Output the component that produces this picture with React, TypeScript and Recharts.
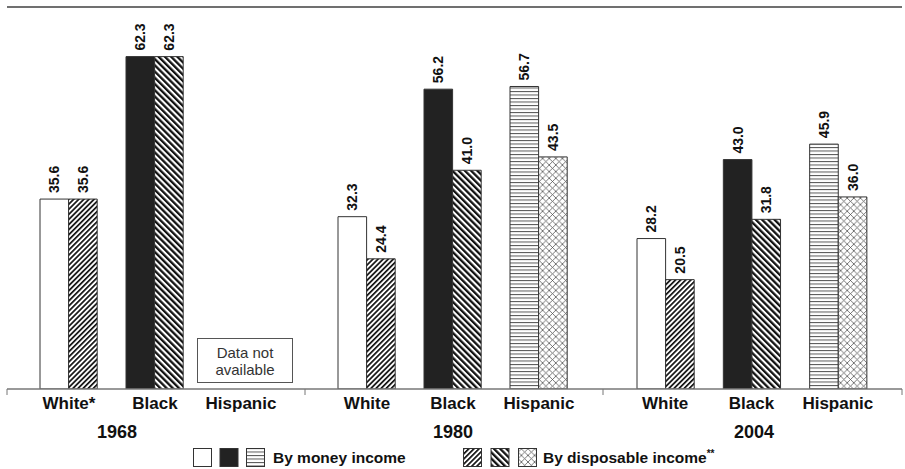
import React from 'react';
import { BarChart, Bar, XAxis, YAxis, Cell, LabelList, ReferenceLine } from 'recharts';

// ---- data ----
const YEARS = ['1968', '1980', '2004'];
const CATEGORIES = [
  ['White*', 'Black', 'Hispanic'],
  ['White', 'Black', 'Hispanic'],
  ['White', 'Black', 'Hispanic'],
];
const MONEY_INCOME: (number | null)[][] = [
  [35.6, 62.3, null],
  [32.3, 56.2, 56.7],
  [28.2, 43.0, 45.9],
];
const DISPOSABLE_INCOME: (number | null)[][] = [
  [35.6, 62.3, null],
  [24.4, 41.0, 43.5],
  [20.5, 31.8, 36.0],
];
const SERIES_NAMES = ['By money income', 'By disposable income'];
const NOT_AVAILABLE = ['Data not', 'available'];

// ---- styling / layout ----
const Y_MAX = 71.6;
const FONT = '"Liberation Sans", Arial, Helvetica, sans-serif';
const MONEY_FILLS = ['#ffffff', '#222222', 'url(#hlines)'];
const DISP_FILLS = ['url(#fwd)', 'url(#back)', 'url(#cross)'];
const CHART_LEFT = [7, 305, 603];
const CHART_W = [298, 298, 299];
const CHART_H = 419;
const YEAR_X = [117, 453, 754];

const VLabel = (props: any) => {
  const vb = props.viewBox || {};
  const x = props.x ?? vb.x;
  const y = props.y ?? vb.y;
  const width = props.width ?? vb.width;
  const value = props.value;
  if (value == null || x == null) return null;
  const cx = x + width / 2;
  const ty = y - 6;
  return (
    <text
      x={cx}
      y={ty}
      transform={`rotate(-90 ${cx} ${ty})`}
      textAnchor="start"
      dy="0.36em"
      fontSize={14}
      fontWeight="bold"
      fill="#111"
      fontFamily={FONT}
    >
      {Number(value).toFixed(1)}
    </text>
  );
};

function GroupChart({ g }: { g: number }) {
  const data = CATEGORIES[g].map((c, i) => ({
    cat: c,
    money: MONEY_INCOME[g][i],
    disp: DISPOSABLE_INCOME[g][i],
  }));
  return (
    <BarChart
      width={CHART_W[g]}
      height={CHART_H}
      data={data}
      margin={{ top: 7, right: 0, bottom: 0, left: 0 }}
      barGap={0}
      barSize={28.6}
    >
      <YAxis hide type="number" domain={[0, Y_MAX]} allowDataOverflow />
      <XAxis
        dataKey="cat"
        interval={0}
        tickLine={false}
        axisLine={{ stroke: '#777', strokeWidth: 1.5 }}
        padding={{ left: 19, right: 21 }}
        height={30}
        tick={{ fill: '#111', fontSize: 17, fontWeight: 'bold', fontFamily: FONT }}
      />
      <ReferenceLine y={Y_MAX} stroke="#707070" strokeWidth={2} />
      <Bar dataKey="money" isAnimationActive={false} stroke="#333" strokeWidth={1}>
        {data.map((d, i) => (
          <Cell key={i} fill={MONEY_FILLS[i]} />
        ))}
        <LabelList dataKey="money" content={<VLabel />} />
      </Bar>
      <Bar dataKey="disp" isAnimationActive={false} stroke="#333" strokeWidth={1}>
        {data.map((d, i) => (
          <Cell key={i} fill={DISP_FILLS[i]} />
        ))}
        <LabelList dataKey="disp" content={<VLabel />} />
      </Bar>
    </BarChart>
  );
}

export default function App() {
  return (
    <div style={{ position: 'absolute', left: 0, top: 0, width: 905, height: 469, background: '#fff', overflow: 'hidden' }}>
      <svg width={0} height={0} style={{ position: 'absolute' }}>
        <defs>
          <pattern id="hlines" patternUnits="userSpaceOnUse" width={8} height={3.5}>
            <rect width={8} height={3.5} fill="#fff" />
            <rect y={0} width={8} height={1} fill="#555" />
          </pattern>
          <pattern id="fwd" patternUnits="userSpaceOnUse" width={3.6} height={10} patternTransform="rotate(45)">
            <rect width={3.6} height={10} fill="#fff" />
            <rect width={1.7} height={10} fill="#111" />
          </pattern>
          <pattern id="back" patternUnits="userSpaceOnUse" width={4.4} height={10} patternTransform="rotate(-45)">
            <rect width={4.4} height={10} fill="#fff" />
            <rect width={2.3} height={10} fill="#111" />
          </pattern>
          <pattern id="cross" patternUnits="userSpaceOnUse" width={6.6} height={6.6}>
            <rect width={6.6} height={6.6} fill="#fff" />
            <path d="M0,0 L6.6,6.6 M6.6,0 L0,6.6" stroke="#555" strokeWidth={0.8} fill="none" />
          </pattern>
        </defs>
      </svg>

      {YEARS.map((y, g) => (
        <div key={y} style={{ position: 'absolute', left: CHART_LEFT[g], top: 0 }}>
          <GroupChart g={g} />
        </div>
      ))}

      <svg width={905} height={469} style={{ position: 'absolute', left: 0, top: 0, pointerEvents: 'none' }}>
        {[7, 305, 603, 902].map((x) => (
          <line key={x} x1={x} x2={x} y1={389} y2={395} stroke="#777" strokeWidth={1} />
        ))}
        {/* not available box */}
        <rect x={197.5} y={338.5} width={95} height={44} fill="#fff" stroke="#555" strokeWidth={1} />
        <text x={245} y={357.5} textAnchor="middle" fontSize={15} fill="#333" fontFamily={FONT}>
          {NOT_AVAILABLE[0]}
        </text>
        <text x={245} y={375} textAnchor="middle" fontSize={15} fill="#333" fontFamily={FONT}>
          {NOT_AVAILABLE[1]}
        </text>
        {YEARS.map((y, g) => (
          <text key={y} x={YEAR_X[g]} y={437.5} textAnchor="middle" fontSize={18} fontWeight="bold" fill="#111" fontFamily={FONT}>
            {y}
          </text>
        ))}
        {/* legend */}
        {MONEY_FILLS.map((f, i) => (
          <rect key={'m' + i} x={193.5 + i * 26.5} y={448.5} width={18} height={18} fill={f} stroke="#333" strokeWidth={1} />
        ))}
        <text x={273} y={463} fontSize={15.5} fontWeight="bold" fill="#111" fontFamily={FONT}>
          {SERIES_NAMES[0]}
        </text>
        {DISP_FILLS.map((f, i) => (
          <rect key={'d' + i} x={463.5 + i * 27.5} y={448.5} width={18} height={18} fill={f} stroke="#333" strokeWidth={1} />
        ))}
        <text x={543} y={463} fontSize={15.5} fontWeight="bold" fill="#111" fontFamily={FONT}>
          {SERIES_NAMES[1]}
          <tspan fontSize={10} dy={-6}>**</tspan>
        </text>
      </svg>
    </div>
  );
}
